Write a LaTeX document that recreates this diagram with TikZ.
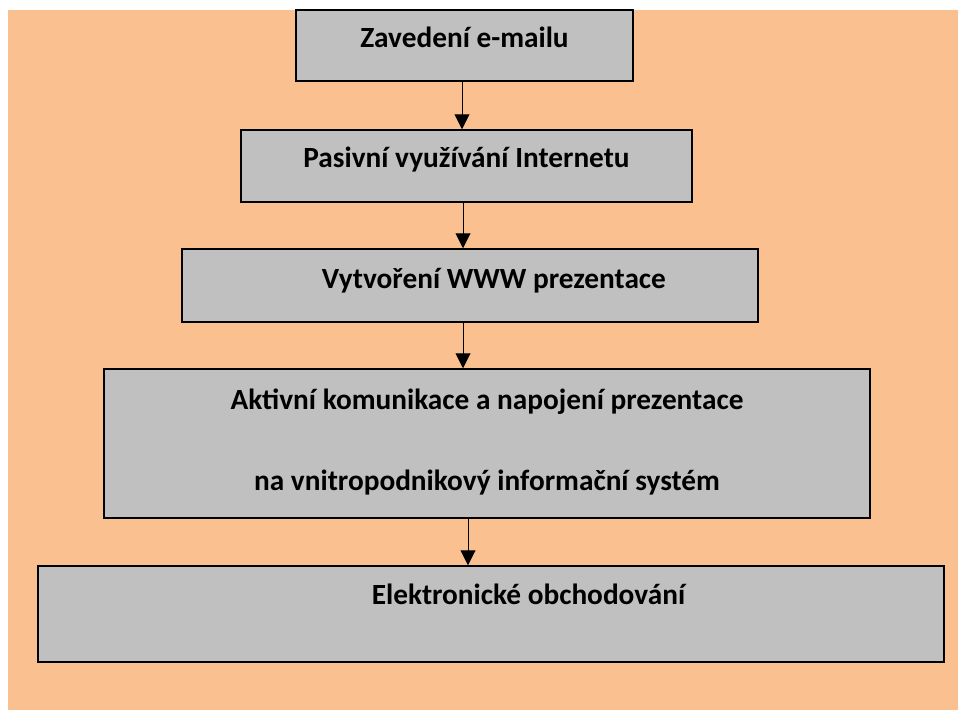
\documentclass[tikz,border=0pt]{standalone}
\usepackage{fontspec}
\setmainfont{Carlito}
\usetikzlibrary{arrows.meta, calc}
\definecolor{peachbg}{HTML}{FAC090}
\definecolor{stagegray}{HTML}{C0C0C0}

\begin{document}
\begin{tikzpicture}[
    x=1pt, y=-1pt,
    stage/.style={rectangle, draw=black, fill=stagegray, line width=1.5pt,
                  inner sep=0pt, align=center,
                  font=\fontsize{29.3}{81}\selectfont\bfseries},
    flow/.style={draw=black, line width=1pt, -{Triangle[width=15pt,length=15pt]}},
]

\useasboundingbox (0,0) rectangle (958,710);
\fill[peachbg] (8,10) rectangle (958,710);

\node[stage, minimum width=337pt, text height=37pt, text depth=34pt] (s1) at (464.5,45.5) {Zavedení e-mailu};
\node[stage, minimum width=451pt, text height=37pt, text depth=35pt] (s2) at (466.5,166) {Pasivní využívání Internetu};
\node[stage, minimum width=576pt, text height=39pt, text depth=34pt] (s3) at (470,285.5) {\hspace*{48pt}Vytvoření WWW prezentace};
\node[stage, minimum width=766pt, minimum height=149pt] (s4) at (487,443.5) {Aktivní komunikace a napojení prezentace\\na vnitropodnikový informační systém\vspace*{4pt}};
\node[stage, minimum width=906pt, text height=38pt, text depth=58pt] (s5) at (491,614) {\hspace*{75pt}Elektronické obchodování};

\draw[flow] ([xshift=-2.5pt]s1.south) -- ([xshift=-2.5pt]s1.south |- s2.north);
\draw[flow] ([xshift=-3.5pt]s2.south) -- ([xshift=-3.5pt]s2.south |- s3.north);
\draw[flow] ([xshift=-7pt]s3.south) -- ([xshift=-7pt]s3.south |- s4.north);
\draw[flow] ([xshift=-19pt]s4.south) -- ([xshift=-19pt]s4.south |- s5.north);

\end{tikzpicture}
\end{document}
